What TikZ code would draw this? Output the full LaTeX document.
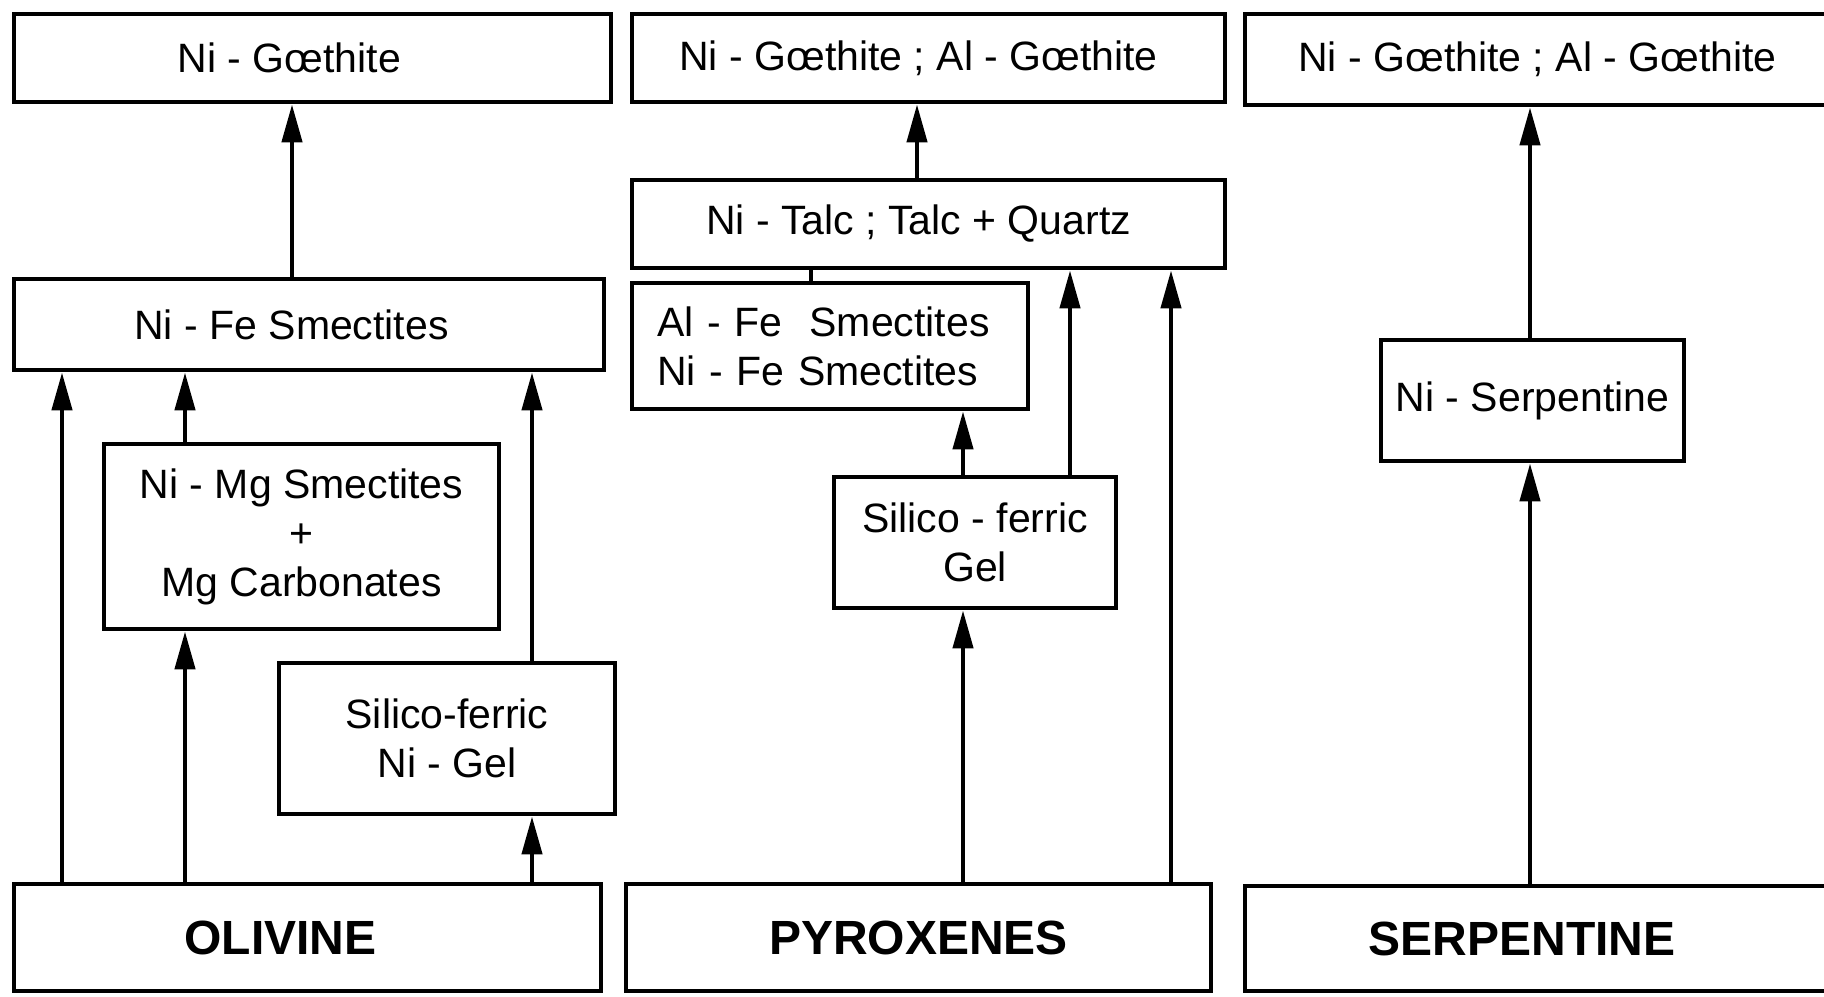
\documentclass[tikz,border=0pt]{standalone}
\usepackage{fontspec}
\setmainfont{Liberation Sans}
\usetikzlibrary{arrows.meta}
\begin{document}
\begin{tikzpicture}[x=0.5pt,y=-0.5pt,
  box/.style={draw=black, line width=2.4pt, rectangle, inner sep=0pt,
    font=\fontsize{20.5}{24.5}\selectfont},
  rock/.style={box, font=\fontsize{24}{28}\selectfont\bfseries},
  arr/.style={line width=2.2pt, -{Triangle[length=19pt,width=10pt]}},
  plain/.style={line width=2.2pt}]
\useasboundingbox (0,0) rectangle (1824,996);
\fill[white] (0,0) rectangle (1824,996);
% column 1
\node[box, minimum width=298.5pt, minimum height=44pt] (G1) at (312.5,58) {Ni - Gœthite\hspace*{23pt}};
\node[box, minimum width=295pt, minimum height=45.5pt] (S1) at (309,324.5) {Ni - Fe Smectites\hspace*{17.5pt}};
\node[box, align=center, minimum width=197.5pt, minimum height=92.5pt] (M1) at (301.5,536.5) {Ni - Mg Smectites\\+\\Mg Carbonates};
\node[box, align=center, minimum width=168pt, minimum height=75.5pt] (N1) at (447,738.5) {Silico-ferric\\Ni - Gel};
\node[rock, minimum width=293.5pt, minimum height=53.5pt] (O1) at (307.5,937.5) {OLIVINE\hspace*{27pt}};
% column 2
\node[box, minimum width=296.5pt, minimum height=44pt] (G2) at (928.5,58) {Ni - Gœthite ; Al - Gœthite\hspace*{10pt}};
\node[box, minimum width=296.5pt, minimum height=44pt] (T2) at (928.5,224) {Ni - Talc ; Talc + Quartz\hspace*{10pt}};
\node[box, align=left, text width=173pt, inner xsep=12.5pt, minimum height=63pt] (A2) at (830,346) {Al - Fe\ \ Smectites\\Ni - Fe Smectites};
\node[box, align=center, minimum width=141pt, minimum height=65.5pt] (F2) at (975,542.5) {Silico - ferric\\Gel};
\node[rock, minimum width=292.5pt, minimum height=53.5pt] (P2) at (918.5,937.5) {PYROXENES};
% column 3
\node[box, minimum width=292.5pt, minimum height=45.5pt] (G3) at (1537.5,59.5) {Ni - Gœthite ; Al - Gœthite};
\node[box, minimum width=151.5pt, minimum height=60.5pt] (NS3) at (1532.5,400.5) {Ni - Serpentine};
\node[rock, minimum width=292.5pt, minimum height=52.5pt] (S3) at (1537.5,938.5) {SERPENTINE\hspace*{15.5pt}};
% x positions of connectors
\coordinate (a) at (62,0);
\coordinate (b) at (185,0);
\coordinate (c) at (532,0);
\coordinate (d) at (292,0);
\coordinate (e) at (917,0);
\coordinate (f) at (811,0);
\coordinate (g) at (963,0);
\coordinate (h) at (1070,0);
\coordinate (k) at (1171,0);
\coordinate (m) at (1530,0);
% column 1 connectors
\draw[arr] (a |- O1.north) -- (a |- S1.south);
\draw[arr] (b |- O1.north) -- (b |- M1.south);
\draw[arr] (b |- M1.north) -- (b |- S1.south);
\draw[arr] (c |- O1.north) -- (c |- N1.south);
\draw[arr] (c |- N1.north) -- (c |- S1.south);
\draw[arr] (d |- S1.north) -- (d |- G1.south);
% column 2 connectors
\draw[arr] (e |- T2.north) -- (e |- G2.south);
\draw[plain] (f |- A2.north) -- (f |- T2.south);
\draw[arr] (g |- P2.north) -- (g |- F2.south);
\draw[arr] (g |- F2.north) -- (g |- A2.south);
\draw[arr] (h |- F2.north) -- (h |- T2.south);
\draw[arr] (k |- P2.north) -- (k |- T2.south);
% column 3 connectors
\draw[arr] (m |- S3.north) -- (m |- NS3.south);
\draw[arr] (m |- NS3.north) -- (m |- G3.south);
\end{tikzpicture}
\end{document}
